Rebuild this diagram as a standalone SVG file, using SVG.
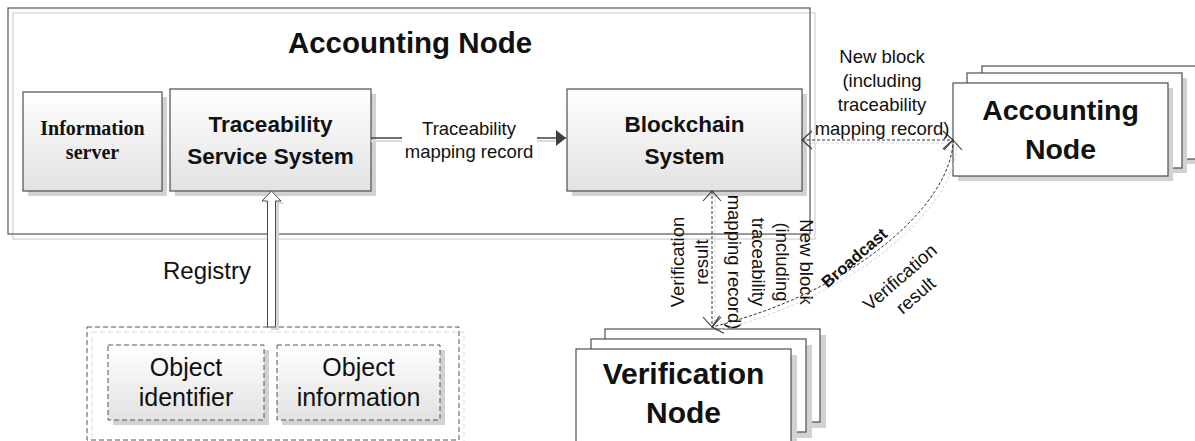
<svg xmlns="http://www.w3.org/2000/svg" width="1195" height="441" viewBox="0 0 1195 441">
<defs>
<linearGradient id="g" x1="0" y1="0" x2="0" y2="1"><stop offset="0" stop-color="#ffffff"/><stop offset="1" stop-color="#e2e2e2"/></linearGradient>
<marker id="open" viewBox="0 0 12 20" refX="11" refY="10" markerWidth="12" markerHeight="20" markerUnits="userSpaceOnUse" orient="auto-start-reverse"><path d="M1,1 L11,10 L1,19" fill="none" stroke="#333" stroke-width="1.1" stroke-dasharray="none"/></marker>
<marker id="solid" viewBox="0 0 11 18" refX="10.5" refY="9" markerWidth="11" markerHeight="18" markerUnits="userSpaceOnUse" orient="auto"><path d="M0,0.5 L10.5,9 L0,17.5 Z" fill="#404040"/></marker>
<style>
.sh{fill:#d2d2d2}
.box{fill:url(#g);stroke:#4d4d4d;stroke-width:1.2}
.wbox{fill:#ffffff;stroke:#4d4d4d;stroke-width:1.2}
.dbox{fill:url(#g);stroke:#555;stroke-width:1;stroke-dasharray:5 3}
.t{font-family:"Liberation Sans",Arial,sans-serif;fill:#111}
.serif{font-family:"Liberation Serif","Times New Roman",serif;fill:#111;font-weight:bold;font-size:20px}
.b{font-weight:bold}
.lbl{font-size:18.5px}
.dash{fill:none;stroke:#333;stroke-width:1;stroke-dasharray:3 2}
.dsh{fill:none;stroke:#d6d6d6;stroke-width:1;stroke-dasharray:3 2}
</style>
</defs>

<g id="accounting-node-main">
<rect x="13" y="13" width="802" height="226" fill="none" stroke="#e3e3e3" stroke-width="2"/>
<rect x="8" y="8" width="802" height="226" fill="none" stroke="#555" stroke-width="1.2"/>
<text class="t b" x="410" y="53" font-size="29.5" text-anchor="middle">Accounting Node</text>
</g>

<g id="information-server">
<rect class="sh" x="28" y="97" width="139" height="99"/>
<rect class="box" x="23" y="92" width="139" height="99"/>
<text class="serif" text-anchor="middle"><tspan x="92.5" y="135">Information</tspan><tspan x="92.5" y="159">server</tspan></text>
</g>

<g id="traceability-service-system">
<rect class="sh" x="175" y="94" width="201" height="102"/>
<rect class="box" x="170" y="89" width="201" height="102"/>
<text class="t b" font-size="22.5" text-anchor="middle"><tspan x="270.5" y="132">Traceability</tspan><tspan x="270.5" y="164">Service System</tspan></text>
</g>

<g id="blockchain-system">
<rect class="sh" x="572" y="94" width="235" height="102"/>
<rect class="box" x="567" y="89" width="235" height="102"/>
<text class="t b" font-size="22.5" text-anchor="middle"><tspan x="684.5" y="132">Blockchain</tspan><tspan x="684.5" y="164">System</tspan></text>
</g>

<g id="accounting-node-peers">
<rect class="sh" x="987" y="71" width="215" height="93"/>
<rect class="wbox" x="982" y="66" width="215" height="93"/>
<rect class="sh" x="972" y="78" width="215" height="95"/>
<rect class="wbox" x="967" y="73" width="215" height="95"/>
<rect class="sh" x="958" y="88" width="215" height="93"/>
<rect class="wbox" x="953" y="83" width="215" height="93"/>
<text class="t b" font-size="28.5" text-anchor="middle"><tspan x="1060.5" y="120">Accounting</tspan><tspan x="1060.5" y="159">Node</tspan></text>
</g>

<g id="verification-node">
<rect class="sh" x="611" y="335" width="215" height="93"/>
<rect class="wbox" x="605" y="329" width="215" height="93"/>
<rect class="sh" x="597" y="345" width="215" height="93"/>
<rect class="wbox" x="591" y="339" width="215" height="93"/>
<rect class="sh" x="582" y="355" width="215" height="93"/>
<rect class="wbox" x="576" y="349" width="215" height="93"/>
<text class="t b" font-size="30" text-anchor="middle"><tspan x="683.5" y="384">Verification</tspan><tspan x="683.5" y="423">Node</tspan></text>
</g>

<g id="object-group">
<rect x="92" y="332" width="372" height="113" fill="none" stroke="#dddddd" stroke-width="1" stroke-dasharray="5 3"/>
<rect x="87" y="327" width="372" height="113" fill="none" stroke="#555" stroke-width="1" stroke-dasharray="5 3"/>
</g>

<g id="object-identifier">
<rect class="sh" x="113" y="350" width="156" height="75"/>
<rect class="dbox" x="108" y="345" width="156" height="75"/>
<text class="t" font-size="25" text-anchor="middle"><tspan x="186" y="376">Object</tspan><tspan x="186" y="406">identifier</tspan></text>
</g>

<g id="object-information">
<rect class="sh" x="282" y="350" width="163" height="75"/>
<rect class="dbox" x="277" y="345" width="163" height="75"/>
<text class="t" font-size="25" text-anchor="middle"><tspan x="358.5" y="376">Object</tspan><tspan x="358.5" y="406">information</tspan></text>
</g>

<g id="connectors">
<line x1="371" y1="141" x2="560" y2="141" stroke="#dadada" stroke-width="2"/>
<line x1="371" y1="138" x2="566" y2="138" stroke="#404040" stroke-width="1.6" marker-end="url(#solid)"/>
<rect x="402" y="116" width="135" height="48" fill="#ffffff"/>
<text class="t lbl" text-anchor="middle"><tspan x="469" y="135">Traceability</tspan><tspan x="469" y="158">mapping record</tspan></text>

<polygon points="275,195 284,204 279,204 279,330 271,330 271,204 265,204" fill="#d6d6d6"/>
<polygon points="271.5,191 281,201 275.5,201 275.5,327 267.5,327 267.5,201 262,201" fill="#ffffff" stroke="#4d4d4d" stroke-width="1"/>
<text class="t" font-size="24" x="207" y="279" text-anchor="middle">Registry</text>

<line class="dsh" x1="806" y1="143" x2="956" y2="143"/>
<line class="dash" x1="802" y1="140" x2="953" y2="140" marker-start="url(#open)" marker-end="url(#open)"/>
<text class="t lbl" text-anchor="middle"><tspan x="882" y="63">New block</tspan><tspan x="882" y="87">(including</tspan><tspan x="882" y="111">traceability</tspan><tspan x="882" y="135">mapping record)</tspan></text>

<line class="dsh" x1="715" y1="195" x2="715" y2="330"/>
<line class="dash" x1="712" y1="191" x2="712" y2="327" marker-start="url(#open)" marker-end="url(#open)"/>
<text class="t lbl" text-anchor="middle" transform="translate(696,262) rotate(-90)"><tspan x="0" y="-12">Verification</tspan><tspan x="0" y="12">result</tspan></text>
<text class="t lbl" text-anchor="middle" transform="translate(764,262) rotate(90)"><tspan x="0" y="-36">New block</tspan><tspan x="0" y="-12">(including</tspan><tspan x="0" y="12">traceability</tspan><tspan x="0" y="36">mapping record)</tspan></text>

<path class="dsh" d="M957,143 C957,203 864,294 716,331"/>
<path class="dash" d="M953,140 C953,200 860,290 712,327" marker-start="url(#open)" marker-end="url(#open)"/>
<text class="t b" font-size="16.5" text-anchor="middle" transform="translate(858,262) rotate(-41)">Broadcast</text>
<text class="t lbl" text-anchor="middle" transform="translate(904,282) rotate(-41)"><tspan x="0" y="0">Verification</tspan><tspan x="0" y="24">result</tspan></text>
</g>
</svg>
